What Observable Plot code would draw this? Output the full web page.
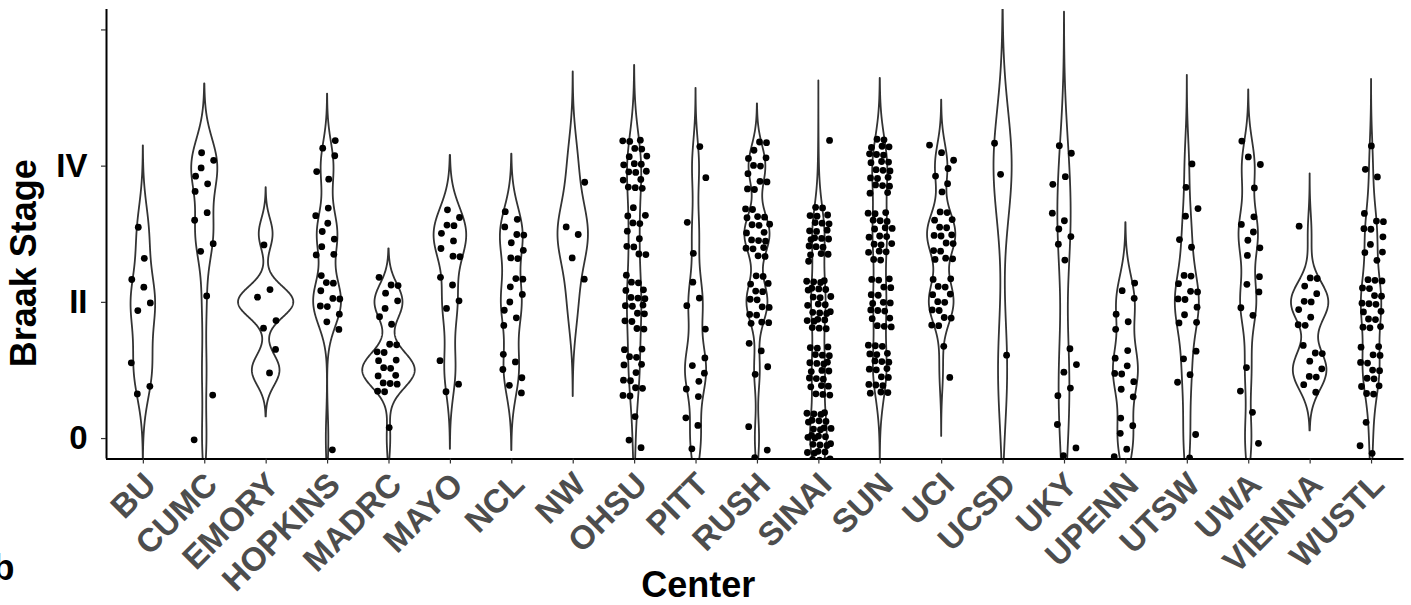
<!DOCTYPE html>
<html>
<head>
<meta charset="utf-8">
<script src="https://cdn.jsdelivr.net/npm/d3@7"></script>
<script src="https://cdn.jsdelivr.net/npm/@observablehq/plot@0.6"></script>
<style>
  html, body { margin: 0; padding: 0; background: #ffffff; }
  #chart { width: 1411px; height: 605px; overflow: hidden; }
</style>
</head>
<body>
<div id="chart"></div>
<script>
// ---- data ----
const centers = ["BU","CUMC","EMORY","HOPKINS","MADRC","MAYO","NCL","NW","OHSU","PITT","RUSH",
                 "SINAI","SUN","UCI","UCSD","UKY","UPENN","UTSW","UWA","VIENNA","WUSTL"];
// number of cases at each Braak stage, per center (same order as centers)
const stage0 = [0, 1, 0, 1, 1, 0, 0, 0, 3, 3, 3, 30, 0, 0, 0, 3, 5, 3, 2, 0, 3];
const stage1 = [3, 1, 2, 0, 15, 3, 6, 0, 13, 6, 4, 22, 20, 2, 1, 5, 8, 4, 2, 9, 14];
const stage2 = [4, 1, 4, 11, 8, 4, 8, 1, 17, 4, 15, 25, 18, 14, 0, 0, 6, 11, 5, 10, 17];
const stage3 = [2, 4, 1, 8, 0, 9, 9, 3, 11, 2, 18, 22, 20, 16, 0, 6, 0, 4, 6, 1, 10];
const stage4 = [0, 6, 0, 5, 0, 0, 0, 1, 18, 2, 12, 1, 22, 7, 2, 4, 0, 2, 4, 0, 3];
const yTickValues = [0, 2, 4, 6];
const yTickLabels = ["0", "II", "IV", ""];

const stageCounts = [stage0, stage1, stage2, stage3, stage4];

// ---- violin statistics (Gaussian KDE, R's bw.nrd0, cut = 3, area scaling) ----
function nrd0(x) {
  const hi = d3.deviation(x);
  let lo = Math.min(hi, (d3.quantile(x, 0.75) - d3.quantile(x, 0.25)) / 1.34);
  if (!lo) lo = hi || Math.abs(x[0]) || 1;
  return 0.9 * lo * Math.pow(x.length, -0.2);
}

const groups = centers.map((c, i) => {
  const vals = [];
  stageCounts.forEach((arr, s) => { for (let k = 0; k < arr[i]; k++) vals.push(s); });
  const bw = nrd0(vals);
  const lo = d3.min(vals) - 3 * bw, hi = d3.max(vals) + 3 * bw;
  const grid = d3.range(512).map(k => lo + (hi - lo) * k / 511);
  const dens = grid.map(y =>
    d3.sum(vals, v => Math.exp(-0.5 * ((y - v) / bw) ** 2)) / (vals.length * bw * Math.sqrt(2 * Math.PI)));
  return {center: c, index: i, vals, grid, dens};
});
const maxDensity = d3.max(groups, g => d3.max(g.dens));
const violinHalf = 0.45;   // width = 0.9 of a category step

const violinRows = groups.flatMap(g => g.grid.map((y, k) => ({
  center: g.center,
  y,
  x1: g.index - violinHalf * g.dens[k] / maxDensity,
  x2: g.index + violinHalf * g.dens[k] / maxDensity
})));

// jittered cases (fixed quasi-uniform jitter: width 0.2, height 0.4)
const jitterW = 0.2, jitterH = 0.4;
const pointRows = groups.flatMap(g => g.vals.map((v, j) => {
  const t = j + 1 + g.index * 13;
  const u1 = (0.5 + t * 0.7548776662) % 1;
  const u2 = (0.5 + t * 0.5698402910) % 1;
  return {center: g.center, x: g.index + jitterW * (2 * u1 - 1), y: v + jitterH * (2 * u2 - 1)};
}));

const chart = Plot.plot({
  width: 1411,
  height: 605,
  marginTop: 9,
  marginBottom: 146.5,
  marginLeft: 106,
  marginRight: 7.4,
  x: {domain: [-0.6, 20.53], axis: null},
  y: {domain: [-0.3, 6.3], axis: null},
  style: {background: "#ffffff", fontFamily: "'Liberation Sans', Arial, Helvetica, sans-serif"},
  marks: [
    Plot.areaX(violinRows, {y: "y", x1: "x1", x2: "x2", z: "center", fill: "white",
      stroke: "#333333", strokeWidth: 1.8, clip: true}),
    Plot.dot(pointRows, {x: "x", y: "y", r: 3.4, fill: "black", clip: true}),
    Plot.ruleX([-0.6], {stroke: "black", strokeWidth: 2}),
    Plot.ruleY([-0.3], {stroke: "black", strokeWidth: 2}),
    Plot.axisY({ticks: yTickValues, tickFormat: d => yTickLabels[yTickValues.indexOf(d)],
      tickSize: 5, tickPadding: 14, fontSize: 33, fontWeight: "bold", fill: "black",
      stroke: "#333333", strokeWidth: 1.2, label: null}),
    Plot.axisX({ticks: d3.range(centers.length), tickFormat: () => "", tickSize: 5,
      stroke: "#333333", strokeWidth: 1.2, label: null}),
    Plot.text(centers, {x: (d, i) => i, y: () => -0.3, text: d => d, rotate: -45,
      textAnchor: "end", lineAnchor: "top", dx: -2, dy: 11, fontSize: 33, fontWeight: "bold",
      fill: "#4d4d4d"}),
    Plot.text(["Braak Stage"], {text: d => d, frameAnchor: "left", textAnchor: "middle", lineAnchor: "middle",
      rotate: -90, dx: -82, dy: 29, fontSize: 36, fontWeight: "bold", fill: "black"}),
    Plot.text(["Center"], {text: d => d, frameAnchor: "bottom", textAnchor: "middle", lineAnchor: "middle",
      dx: -57, dy: 126, fontSize: 36, fontWeight: "bold", fill: "black"}),
    Plot.text(["b"], {text: d => d, frameAnchor: "bottom-left", textAnchor: "start", lineAnchor: "middle",
      dx: -114, dy: 109, fontSize: 36, fontWeight: "bold", fill: "black"})
  ]
});
document.getElementById("chart").appendChild(chart);
</script>
</body>
</html>
